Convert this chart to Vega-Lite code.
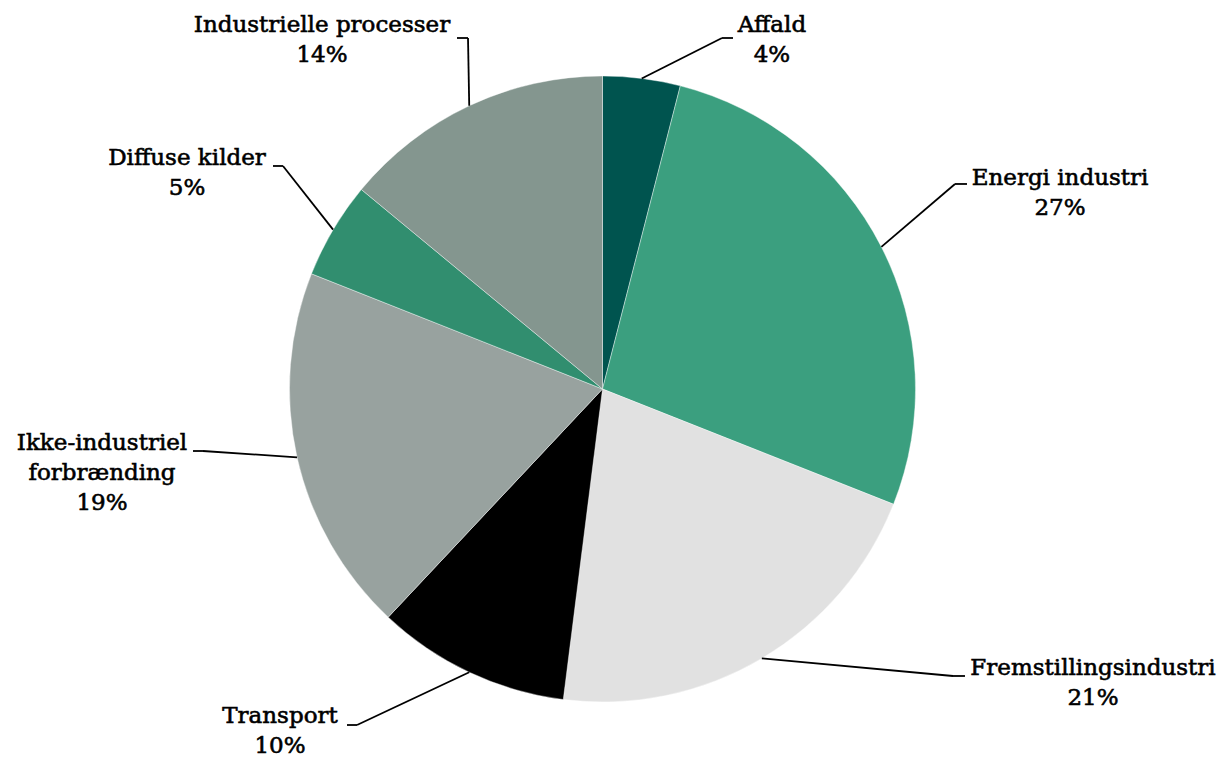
{
  "$schema": "https://vega.github.io/schema/vega-lite/v6.json",
  "autosize": {"type": "none"},
  "width": 1205,
  "height": 750,
  "padding": {"left": 0, "right": 23, "top": 14, "bottom": 0},
  "background": "white",
  "config": {"view": {"stroke": null}},
  "data": {
    "values": [
      {"kategori": "Affald", "andel": 4},
      {"kategori": "Energi industri", "andel": 27},
      {"kategori": "Fremstillingsindustri", "andel": 21},
      {"kategori": "Transport", "andel": 10},
      {"kategori": "Ikke-industriel forbrænding", "andel": 19},
      {"kategori": "Diffuse kilder", "andel": 5},
      {"kategori": "Industrielle processer", "andel": 14}
    ]
  },
  "transform": [
    {"window": [{"op": "row_number", "as": "idx"}]},
    {"window": [{"op": "sum", "field": "andel", "as": "kum"}], "sort": [{"field": "idx"}], "frame": [null, 0]},
    {"joinaggregate": [{"op": "sum", "field": "andel", "as": "total"}]},
    {"calculate": "2*PI*(datum.kum - datum.andel/2)/datum.total", "as": "vinkel"},
    {"calculate": "sin(datum.vinkel)", "as": "sx"},
    {"calculate": "cos(datum.vinkel)", "as": "sy"},
    {"calculate": "[[0.3818,1.1214,0.4169,0.5415,1.1406],[1.1262,0.6550,1.1645,1.4617,0.6518],[1.1198,-0.9169,1.1581,1.5671,-0.9137],[-0.7843,-1.0735,-0.8163,-1.0304,-1.0671],[-1.2764,-0.1981,-1.3083,-1.5990,-0.1949],[-1.0208,0.7125,-1.0527,-1.3275,0.7157],[-0.4297,1.1214,-0.4649,-0.8962,1.1406]][datum.idx-1]", "as": "lay"},
    {"calculate": "datum.lay[0]", "as": "ex"},
    {"calculate": "datum.lay[1]", "as": "ey"},
    {"calculate": "datum.lay[2]", "as": "tx"},
    {"calculate": "datum.lay[3]", "as": "lx"},
    {"calculate": "datum.lay[4]", "as": "ly"},
    {"calculate": "replace(datum.kategori, 'Ikke-industriel ', 'Ikke-industriel\\n') + '\\n' + datum.andel + '%'", "as": "etiket"}
  ],
  "layer": [
    {
      "mark": {"type": "arc", "outerRadius": 313, "stroke": "white", "strokeWidth": 0.4},
      "encoding": {
        "theta": {"field": "andel", "type": "quantitative", "stack": true},
        "order": {"field": "idx", "type": "quantitative"},
        "color": {
          "field": "kategori",
          "type": "nominal",
          "legend": null,
          "scale": {
            "domain": ["Affald", "Energi industri", "Fremstillingsindustri", "Transport", "Ikke-industriel forbrænding", "Diffuse kilder", "Industrielle processer"],
            "range": ["#00544f", "#3b9f7f", "#e1e1e1", "#000000", "#98a29f", "#318e6f", "#84968f"]
          }
        }
      }
    },
    {
      "mark": {"type": "rule", "stroke": "black", "strokeWidth": 1.8},
      "encoding": {
        "x": {"field": "sx", "type": "quantitative", "axis": null, "scale": {"domain": [-1.92492, 1.92492], "nice": false, "zero": false}},
        "y": {"field": "sy", "type": "quantitative", "axis": null, "scale": {"domain": [-1.19808, 1.19808], "nice": false, "zero": false}},
        "x2": {"field": "ex"},
        "y2": {"field": "ey"}
      }
    },
    {
      "mark": {"type": "rule", "stroke": "black", "strokeWidth": 1.8},
      "encoding": {
        "x": {"field": "ex", "type": "quantitative", "axis": null, "scale": {"domain": [-1.92492, 1.92492], "nice": false, "zero": false}},
        "y": {"field": "ey", "type": "quantitative", "axis": null, "scale": {"domain": [-1.19808, 1.19808], "nice": false, "zero": false}},
        "x2": {"field": "tx"}
      }
    },
    {
      "mark": {"type": "text", "font": "DejaVu Serif", "fontSize": 23, "align": "center", "baseline": "alphabetic", "lineBreak": "\n", "lineHeight": 30, "color": "black", "stroke": "black", "strokeWidth": 0.6},
      "encoding": {
        "x": {"field": "lx", "type": "quantitative", "axis": null, "scale": {"domain": [-1.92492, 1.92492], "nice": false, "zero": false}},
        "y": {"field": "ly", "type": "quantitative", "axis": null, "scale": {"domain": [-1.19808, 1.19808], "nice": false, "zero": false}},
        "text": {"field": "etiket"}
      }
    }
  ]
}
